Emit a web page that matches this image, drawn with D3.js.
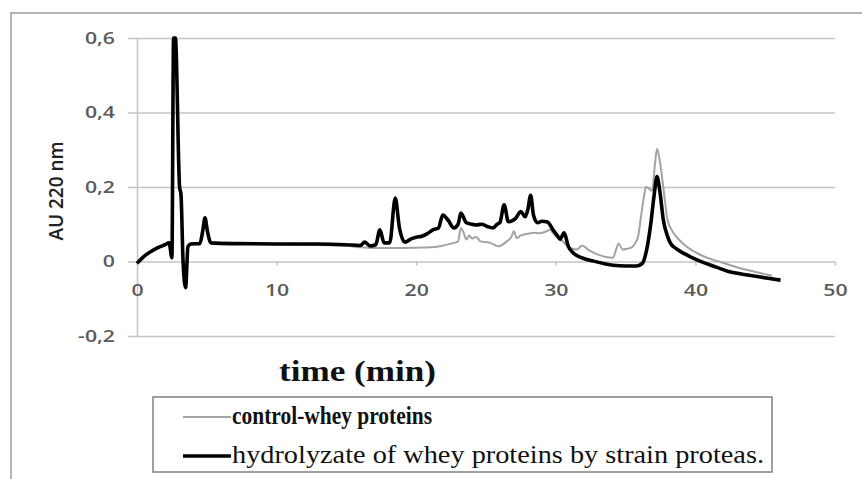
<!DOCTYPE html>
<html>
<head>
<meta charset="utf-8">
<script src="https://cdn.jsdelivr.net/npm/d3@7"></script>
<style>
  body { margin: 0; background: #fff; }
  svg { display: block; }
</style>
</head>
<body>
<div id="chart"></div>
<script>
// chromatogram values
const timeHydro = [0, 0.5, 1, 1.5, 2, 2.3, 2.5, 2.62, 2.75, 3.05, 3.15, 3.3, 3.48, 3.65, 3.85, 4.5, 4.7, 4.87, 5.05, 5.3, 7, 10, 13, 15, 16, 16.3, 16.7, 17.1, 17.4, 17.7, 18.1, 18.5, 18.8, 19.2, 19.6, 20.0, 20.4, 20.8, 21.2, 21.6, 21.9, 22.3, 22.7, 23.0, 23.2, 23.6, 24.0, 24.3, 24.7, 25.1, 25.5, 25.8, 26.0, 26.3, 26.6, 26.9, 27.1, 27.5, 27.8, 28.0, 28.2, 28.4, 28.7, 29.0, 29.4, 29.8, 30.1, 30.3, 30.6, 30.9, 31.2, 31.5, 32.0, 32.7, 33.5, 34.1, 35.0, 35.8, 36.2, 36.5, 36.8, 37.05, 37.25, 37.45, 37.7, 38.0, 38.2, 38.6, 39.1, 39.8, 40.6, 41.5, 42.3, 43.2, 44.2, 45.2, 46.1];
const auHydro = [-0.005, 0.014, 0.027, 0.037, 0.045, 0.05, 0.01, 0.6, 0.6, 0.2, 0.18, 0.0, -0.07, 0.04, 0.047, 0.048, 0.08, 0.117, 0.08, 0.05, 0.048, 0.047, 0.047, 0.045, 0.043, 0.052, 0.042, 0.045, 0.085, 0.05, 0.05, 0.17, 0.09, 0.052, 0.06, 0.065, 0.068, 0.075, 0.085, 0.09, 0.125, 0.11, 0.09, 0.1, 0.13, 0.104, 0.1, 0.098, 0.1, 0.094, 0.09, 0.1, 0.105, 0.152, 0.107, 0.11, 0.115, 0.134, 0.12, 0.14, 0.178, 0.125, 0.104, 0.108, 0.106, 0.085, 0.07, 0.06, 0.077, 0.04, 0.025, 0.016, 0.008, 0.001, -0.006, -0.01, -0.012, -0.012, -0.005, 0.03, 0.1, 0.18, 0.228, 0.19, 0.112, 0.068, 0.05, 0.035, 0.023, 0.01, -0.003, -0.015, -0.026, -0.033, -0.039, -0.045, -0.05];

const timeControl = [0, 0.5, 1, 1.5, 2, 2.3, 2.5, 2.62, 2.75, 3.05, 3.15, 3.3, 3.48, 3.65, 3.85, 4.5, 4.87, 5.3, 10, 15, 16, 17, 18, 19, 20, 21, 21.7, 22.5, 23.0, 23.2, 23.4, 23.6, 23.8, 24.0, 24.3, 24.6, 25.0, 25.3, 25.6, 25.9, 26.2, 26.5, 26.8, 27.0, 27.2, 27.5, 27.8, 28.1, 28.4, 28.8, 29.1, 29.4, 29.6, 29.8, 30.0, 30.5, 31.0, 31.5, 31.9, 32.3, 32.7, 33.0, 33.5, 34.1, 34.3, 34.5, 34.8, 35.1, 35.4, 35.7, 35.9, 36.1, 36.3, 36.45, 36.7, 36.9, 37.1, 37.25, 37.45, 37.7, 38.0, 38.3, 38.6, 39.2, 39.9, 40.7, 41.6, 42.5, 43.5, 44.3, 45.1, 45.5];
const auControl = [-0.005, 0.014, 0.027, 0.037, 0.045, 0.05, 0.015, 0.58, 0.58, 0.2, 0.17, 0.0, -0.065, 0.04, 0.046, 0.047, 0.11, 0.048, 0.046, 0.042, 0.038, 0.036, 0.036, 0.036, 0.037, 0.038, 0.041, 0.048, 0.054, 0.09, 0.077, 0.059, 0.07, 0.062, 0.066, 0.054, 0.052, 0.05, 0.045, 0.041, 0.046, 0.054, 0.065, 0.081, 0.063, 0.07, 0.073, 0.075, 0.077, 0.076, 0.078, 0.082, 0.085, 0.076, 0.068, 0.054, 0.037, 0.032, 0.043, 0.032, 0.024, 0.019, 0.013, 0.01, 0.03, 0.048, 0.032, 0.034, 0.037, 0.05, 0.068, 0.12, 0.17, 0.2, 0.195, 0.19, 0.26, 0.303, 0.27, 0.2, 0.112, 0.085, 0.068, 0.045, 0.027, 0.012, 0.001, -0.01, -0.021, -0.028, -0.035, -0.038];

const xTicks = [0, 10, 20, 30, 40, 50];
const yTicks = [-0.2, 0, 0.2, 0.4, 0.6];
const yTickLabels = ["-0,2", "0", "0,2", "0,4", "0,6"];
const legendNames = ["control-whey proteins", "hydrolyzate of whey proteins by strain proteas."];

const w = 862;
const h = 479;
const plotLeft = 137, plotRight = 835, plotTop = 38, plotBottom = 336;
const grid = "#c4c4c4";
const tickFont = "'Open Sans', sans-serif";
const serif = "'Liberation Serif', 'Times New Roman', serif";

const svg = d3.select("#chart").append("svg").attr("width", w).attr("height", h);

// outer frame (runs off the right and bottom of the picture)
svg.append("rect")
  .attr("x", 11).attr("y", 13)
  .attr("width", 900).attr("height", 500)
  .attr("fill", "none").attr("stroke", "#b4b4b4").attr("stroke-width", 2);

const x = d3.scaleLinear().domain([0, 50]).range([plotLeft, plotRight]);
const y = d3.scaleLinear().domain([-0.2, 0.6]).range([plotBottom, plotTop]);

// y axis + horizontal grid
const yAxis = d3.axisLeft(y)
  .tickValues(yTicks)
  .tickSizeInner(-(plotRight - plotLeft))
  .tickSizeOuter(0)
  .tickFormat((d, i) => yTickLabels[i]);
const gy = svg.append("g").attr("transform", "translate(" + plotLeft + ",0)").call(yAxis);
gy.select(".domain").attr("stroke", grid).attr("stroke-width", 1.5);
gy.selectAll(".tick line").attr("x1", -9).attr("stroke", grid).attr("stroke-width", 1.5);
gy.selectAll(".tick text")
  .attr("x", -22 / 1.25)
  .attr("transform", "scale(1.25,1)")
  .attr("font-family", tickFont)
  .attr("font-weight", 600)
  .attr("font-size", 17)
  .attr("fill", "#5a5a5a");

// x axis sits on the zero line
const xAxis = d3.axisBottom(x).tickValues(xTicks).tickSize(4).tickFormat(d3.format("d"));
const gx = svg.append("g").attr("transform", "translate(0," + y(0) + ")").call(xAxis);
gx.select(".domain").remove();
gx.selectAll(".tick line").attr("stroke", grid).attr("stroke-width", 1.5);
gx.selectAll(".tick text")
  .attr("y", 22)
  .attr("x", 0)
  .attr("transform", "scale(1.25,1)")
  .attr("font-family", tickFont)
  .attr("font-weight", 600)
  .attr("font-size", 17)
  .attr("fill", "#5a5a5a");

const line = d3.line()
  .x((d) => x(d[0]))
  .y((d) => y(d[1]))
  .curve(d3.curveMonotoneX);

const control = timeControl.map((t, i) => [t, auControl[i]]);
const hydro = timeHydro.map((t, i) => [t, auHydro[i]]);

svg.append("path")
  .datum(control)
  .attr("d", line)
  .attr("fill", "none")
  .attr("stroke", "#a3a3a3")
  .attr("stroke-width", 2)
  .attr("stroke-linejoin", "round");

svg.append("path")
  .datum(hydro)
  .attr("d", line)
  .attr("fill", "none")
  .attr("stroke", "#000")
  .attr("stroke-width", 3.6)
  .attr("stroke-linejoin", "round");

// axis titles
svg.append("text")
  .attr("transform", "translate(63,191) rotate(-90)")
  .attr("text-anchor", "middle")
  .attr("font-family", tickFont)
  .attr("font-weight", 600)
  .attr("font-size", 19)
  .attr("fill", "#222")
  .attr("textLength", 99)
  .attr("lengthAdjust", "spacingAndGlyphs")
  .text("AU 220 nm");

svg.append("text")
  .attr("x", 279).attr("y", 381)
  .attr("font-family", serif)
  .attr("font-weight", "bold")
  .attr("font-size", 30)
  .attr("fill", "#111")
  .attr("textLength", 157)
  .attr("lengthAdjust", "spacingAndGlyphs")
  .text("time (min)");

// legend
const legend = svg.append("g");
legend.append("rect")
  .attr("x", 153).attr("y", 397)
  .attr("width", 619).attr("height", 75)
  .attr("fill", "#fff").attr("stroke", "#808080").attr("stroke-width", 1.5);

const legendRows = [
  { name: legendNames[0], color: "#a3a3a3", width: 2, bold: true, y: 417, len: 200 },
  { name: legendNames[1], color: "#000", width: 3.6, bold: false, y: 456, len: 532 },
];
legendRows.forEach((r) => {
  legend.append("line")
    .attr("x1", 183).attr("x2", 231)
    .attr("y1", r.y).attr("y2", r.y)
    .attr("stroke", r.color).attr("stroke-width", r.width);
  legend.append("text")
    .attr("x", 232).attr("y", r.y + 7)
    .attr("font-family", serif)
    .attr("font-weight", r.bold ? "bold" : "normal")
    .attr("font-size", 25)
    .attr("fill", "#111")
    .attr("textLength", r.len)
    .attr("lengthAdjust", "spacingAndGlyphs")
    .text(r.name);
});
</script>
</body>
</html>
